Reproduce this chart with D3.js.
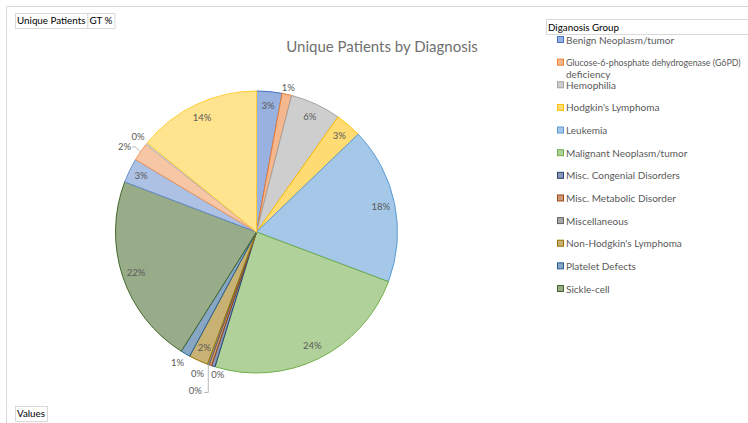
<!DOCTYPE html>
<html>
<head>
<meta charset="utf-8">
<script src="https://cdn.jsdelivr.net/npm/d3@7"></script>
<style>
  body { margin: 0; background: #fff; }
  svg { display: block; font-family: "Lato", "Open Sans", sans-serif; }
</style>
</head>
<body>
<svg id="chart" width="748" height="423"></svg>
<script>
// diagnosis groups (the legend only lists the first 12)
var categories = [
    "Benign Neoplasm/tumor",
    "Glucose-6-phosphate dehydrogenase (G6PD) deficiency",
    "Hemophilia",
    "Hodgkin's Lymphoma",
    "Leukemia",
    "Malignant Neoplasm/tumor",
    "Misc. Congenial Disorders",
    "Misc. Metabolic Disorder",
    "Miscellaneous",
    "Non-Hodgkin's Lymphoma",
    "Platelet Defects",
    "Sickle-cell",
    "Group 13",
    "Group 14",
    "Group 15",
    "Group 16"
];
var legendCount = 12;

// unique patients, % of grand total
var percents = [2.9, 1.1, 5.8, 3.0, 17.9, 24.0, 0.4, 0.3, 0.2, 2.2, 1.1, 21.8, 2.8, 2.1, 0.2, 14.1];

var title = "Unique Patients by Diagnosis";
var legendTitle = "Diganosis Group";

// excel-ish palette: border colour per slice, fill is a lighter version
var strokes = ["#4472c4", "#ed7d31", "#a5a5a5", "#ffc000", "#5b9bd5", "#70ad47",
               "#264478", "#9e480e", "#636363", "#997300", "#255e91", "#43682b",
               "#698ed0", "#f1975a", "#b7b7b7", "#ffcd33"];

// label placement: radius as a share of pie radius, plus a nudge
var labelLayout = [
    {r: 0.9}, {r: 1.05}, {r: 0.9}, {r: 0.9}, {r: 0.9}, {r: 0.9},
    {r: 1.06, dx: 7}, {r: 1.06, dx: -10}, {r: 1.06, dx: -10, dy: 18, leader: "elbow"},
    {r: 0.9}, {r: 1.07, dx: -3}, {r: 0.9}, {r: 0.91},
    {r: 1.06, dx: -9, leader: "line"}, {r: 1.06, dx: -2, dy: -2}, {r: 0.9}
];

var svg = d3.select("#chart");
var W = 748, H = 423;

// chart area border (only top/left are visible)
svg.append("path")
    .attr("d", "M6.5," + H + "V6.5H" + W)
    .attr("fill", "none")
    .attr("stroke", "#d9d9d9");

// pivot field buttons
function fieldButton(x, y, parts) {
    var g = svg.append("g").attr("transform", "translate(" + x + "," + y + ")");
    var cx = 0;
    parts.forEach(function (p) {
        var t = g.append("text").attr("x", cx + 2).attr("y", 11)
            .attr("font-size", 9.8).attr("fill", "#000").text(p);
        var w = t.node().getComputedTextLength() + 4;
        g.insert("rect", "text").attr("x", cx + 0.5).attr("y", 0.5)
            .attr("width", w).attr("height", 15)
            .attr("fill", "#fff").attr("stroke", "#d9d9d9");
        cx += w;
    });
}
fieldButton(15, 13, ["Unique Patients", "GT %"]);
fieldButton(15, 406, ["Values"]);

// title
svg.append("text")
    .attr("x", 382).attr("y", 52)
    .attr("text-anchor", "middle")
    .attr("font-size", 15)
    .attr("fill", "#707070")
    .text(title);

// pie
var cx = 256.5, cy = 232, R = 141;
var pie = d3.pie().sort(null).value(function (d) { return d; });
var arcs = pie(percents);
var total = d3.sum(percents);
var arc = d3.arc().innerRadius(0).outerRadius(R);

function lighten(c) { return d3.interpolateRgb(c, "#fff")(0.45); }

var g = svg.append("g").attr("transform", "translate(" + cx + "," + cy + ")");

g.selectAll("path.slice")
    .data(arcs)
    .enter()
    .append("path")
    .attr("class", "slice")
    .attr("d", arc)
    .attr("fill", function (d, i) { return lighten(strokes[i]); })
    .attr("stroke", function (d, i) { return strokes[i]; })
    .attr("stroke-width", 1);

// data labels
arcs.forEach(function (d, i) {
    var lay = labelLayout[i];
    var a = (d.startAngle + d.endAngle) / 2;
    var rr = R * lay.r;
    var x = Math.sin(a) * rr + (lay.dx || 0);
    var y = -Math.cos(a) * rr + (lay.dy || 0);
    var t = g.append("text")
        .attr("x", x).attr("y", y)
        .attr("dy", "0.35em")
        .attr("text-anchor", "middle")
        .attr("font-size", 9.5)
        .attr("fill", "#595959")
        .text(Math.round(percents[i] / total * 100) + "%");

    if (lay.leader) {
        var w = t.node().getComputedTextLength();
        var ex = Math.sin(a) * R, ey = -Math.cos(a) * R;
        var pts;
        if (lay.leader === "elbow") {
            pts = [[x + w / 2 + 2, y + 2], [ex, y + 2], [ex, ey]];
        } else {
            pts = [[x + w / 2 + 1, y], [x + w / 2 + 4, y], [ex, ey]];
        }
        g.append("path")
            .attr("d", d3.line()(pts))
            .attr("fill", "none")
            .attr("stroke", "#a6a6a6")
            .attr("stroke-width", 0.8);
    }
});

// legend
svg.append("rect")
    .attr("x", 546.5).attr("y", 19.5)
    .attr("width", 210).attr("height", 15)
    .attr("fill", "#fff").attr("stroke", "#d9d9d9");
svg.append("text")
    .attr("x", 548).attr("y", 31)
    .attr("font-size", 9.8).attr("fill", "#000")
    .text(legendTitle);

var legendY = d3.scalePoint()
    .domain(d3.range(legendCount))
    .range([40, 289]);

var leg = svg.selectAll("g.legend")
    .data(categories.slice(0, legendCount))
    .enter()
    .append("g")
    .attr("class", "legend")
    .attr("transform", function (d, i) { return "translate(557," + legendY(i) + ")"; });

leg.append("rect")
    .attr("x", 0.5).attr("y", -3.5)
    .attr("width", 6).attr("height", 6)
    .attr("fill", function (d, i) { return lighten(strokes[i]); })
    .attr("stroke", function (d, i) { return strokes[i]; });

var maxLine = 175;
leg.each(function (d) {
    var t = d3.select(this).append("text")
        .attr("x", 9).attr("y", 0)
        .attr("dy", "0.35em")
        .attr("font-size", 10)
        .attr("fill", "#595959");
    // wrap long names, shrink a line a bit if it still runs past the edge
    var words = d.split(" "), line = [];
    var ts = t.append("tspan").attr("x", 9);
    words.forEach(function (w) {
        line.push(w);
        ts.text(line.join(" "));
        if (ts.node().getComputedTextLength() > 205 && line.length > 1) {
            line.pop();
            ts.text(line.join(" "));
            line = [w];
            ts = t.append("tspan").attr("x", 9).attr("dy", "12").text(w);
        }
    });
    t.selectAll("tspan").each(function () {
        var len = this.getComputedTextLength();
        if (len > maxLine) {
            d3.select(this).attr("font-size", (10 * maxLine / len).toFixed(2));
        }
    });
});
</script>
</body>
</html>
